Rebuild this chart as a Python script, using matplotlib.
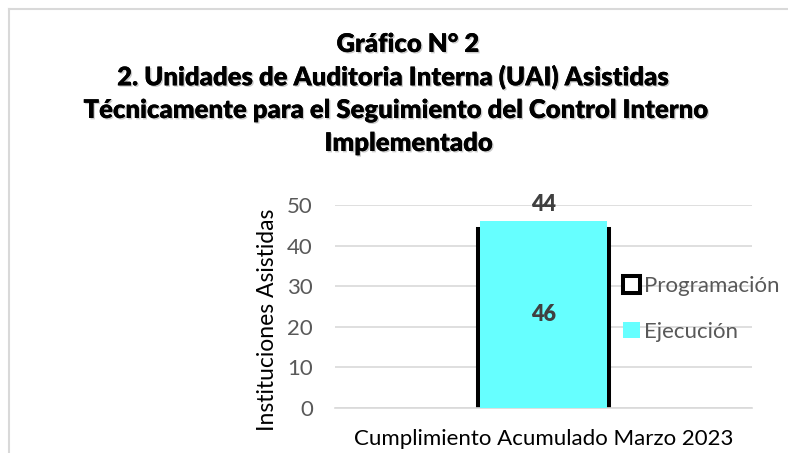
import matplotlib
matplotlib.use("Agg")
import matplotlib.pyplot as plt
from matplotlib.patches import Patch
from matplotlib.lines import Line2D
import matplotlib.patheffects as pe

categories = ["Cumplimiento Acumulado Marzo 2023"]
programacion = [44]
ejecucion = [46]
series_names = ["Programación", "Ejecución"]
yticks = [0, 10, 20, 30, 40, 50]
title_lines = ["Gráfico N° 2",
               "2. Unidades de Auditoria Interna (UAI) Asistidas",
               "Técnicamente para el Seguimiento del Control Interno",
               "Implementado"]
ylabel = "Instituciones Asistidas"

plt.rcParams['font.family'] = ['Lato', 'DejaVu Sans']

W, H = 788, 453
fig = plt.figure(figsize=(W/100, H/100), dpi=100)
ax = fig.add_axes([335/W, 1-408/H, 417/W, 203/H])

x = list(range(len(categories)))
ax.bar(x, programacion, width=0.314, facecolor='white', edgecolor='black',
       linewidth=2.9, zorder=2)
ax.bar(x, ejecucion, width=0.305, color='#66FFFF', zorder=3)

for xi, v in zip(x, programacion):
    ax.annotate(str(v), (xi, v), xytext=(0, 18), textcoords='offset points',
                ha='center', va='center', fontsize=15.5, fontweight='heavy',
                color='#404040', zorder=5)
for xi, v in zip(x, ejecucion):
    ax.text(xi, v/2, str(v), ha='center', va='center', fontsize=15.5,
            fontweight='heavy', color='#404040', zorder=5)

ax.set_xlim(-0.5, 0.5)
ax.set_ylim(0, 50)
ax.set_yticks(yticks)
ax.set_xticks(x)
ax.set_xticklabels(categories, fontsize=16, color='#000000')
ax.tick_params(axis='y', length=0, pad=16, labelsize=16, labelcolor='#595959')
ax.tick_params(axis='x', length=0, pad=15)
ax.grid(axis='y', color='#d9d9d9', linewidth=1.2, zorder=0)
ax.set_axisbelow(True)
for s in ['top', 'right', 'left']:
    ax.spines[s].set_visible(False)
ax.spines['bottom'].set_color('#d9d9d9')
ax.spines['bottom'].set_linewidth(1.2)
ax.set_ylabel(ylabel, fontsize=16.5, color='black')
ax.yaxis.set_label_coords(-0.137, 0.433)

handles = [Patch(facecolor='white', edgecolor='black', linewidth=2.9),
           Patch(facecolor='#66FFFF', edgecolor='none')]
leg = fig.legend(handles, series_names, loc='center left',
                 bbox_to_anchor=(603/W, 1-309/H), frameon=False,
                 fontsize=16, handlelength=0.75, handleheight=0.75,
                 handletextpad=0.2, labelspacing=1.15, labelcolor='#595959')

ys = [44, 77, 110, 143]
xs = [408, 394, 397, 409]
for line, xx, yy in zip(title_lines, xs, ys):
    fig.text(xx/W, 1-yy/H, line, ha='center', va='center', fontsize=18.5,
             fontweight='heavy', color='black',
             path_effects=[pe.withSimplePatchShadow(offset=(1, -1), shadow_rgbFace='#999999', alpha=0.5), pe.Normal()])

fig.add_artist(Line2D([8.5/W, 8.5/W], [0, 1-8.5/H], color='#d9d9d9', linewidth=1.5))
fig.add_artist(Line2D([8.5/W, 1], [1-8.5/H, 1-8.5/H], color='#d9d9d9', linewidth=1.5))

fig.savefig('out.png', dpi=100)
